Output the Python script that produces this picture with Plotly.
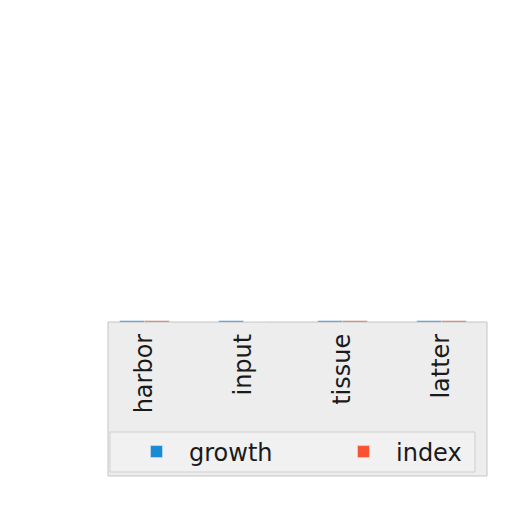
import plotly.graph_objects as go

categories = ["harbor", "input", "tissue", "latter"]
growth = [0.4, 0.4, 0.4, 0.4]
index_vals = [0.4, 0.0, 0.4, 0.4]

fig = go.Figure()
fig.add_trace(go.Bar(x=categories, y=growth, name="growth",
                     marker_color="#1a8ad4", legend="legend"))
fig.add_trace(go.Bar(x=categories, y=index_vals, name="index",
                     marker_color="#fc5130", legend="legend2"))

# plot area spans 396 px wide, 312 px tall; helpers map pixels to paper units
def px(x):
    return (x - 95) / 396

def py(y):
    return -(y - 322) / 312

# grey panel behind the tick labels and legend
fig.add_shape(type="rect", xref="paper", yref="paper", layer="below",
              x0=px(108), x1=px(487), y0=py(476), y1=py(322),
              fillcolor="#ededed", line=dict(color="#c4c4c4", width=1))
# legend frame
fig.add_shape(type="rect", xref="paper", yref="paper", layer="below",
              x0=px(110), x1=px(475), y0=py(472), y1=py(432),
              fillcolor="#f1f1f1", line=dict(color="#cfcfcf", width=1))

leg = dict(orientation="h", xanchor="left", yanchor="middle", y=py(452),
           bgcolor="rgba(0,0,0,0)", borderwidth=0, itemwidth=55,
           font=dict(size=24, color="#1a1a1a"))

fig.update_layout(
    width=512, height=512,
    margin=dict(l=87, r=29, t=2, b=198),
    paper_bgcolor="white", plot_bgcolor="white",
    barmode="group", bargap=0.5, bargroupgap=0,
    font=dict(family="DejaVu Sans", size=24, color="#1a1a1a"),
    showlegend=True,
    legend=dict(leg, x=px(124)),
    legend2=dict(leg, x=px(331)),
)
fig.update_xaxes(tickangle=-90, showline=False, showgrid=False, ticks="",
                 ticklabelstandoff=6)
fig.update_yaxes(range=[0, 100], visible=False)

fig.write_html("out.html")
